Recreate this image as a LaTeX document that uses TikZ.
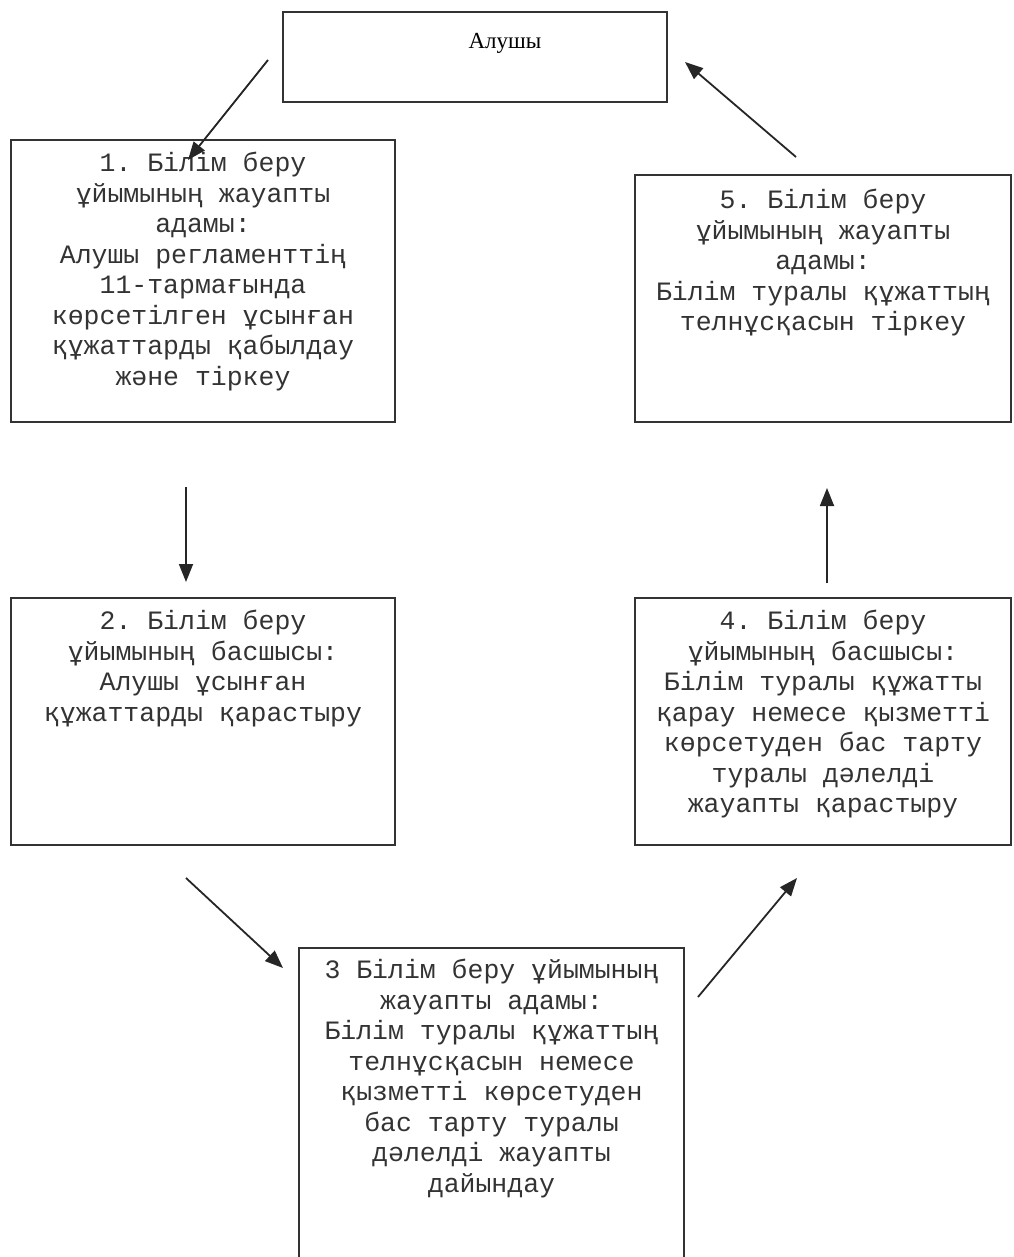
\documentclass[tikz,border=0pt]{standalone}
\usepackage{fontspec}
\setmainfont{Liberation Serif}
\setmonofont{Liberation Mono}
\usetikzlibrary{arrows.meta}

\begin{document}
\begin{tikzpicture}[x=1pt,y=-1pt,
  box/.style={draw=black!80,line width=2pt,inner sep=0pt},
  txt/.style={anchor=north,align=center,text=black!80,
    font=\ttfamily\fontsize{26.5}{30.5}\selectfont},
  arr/.style={draw=black!85,line width=1.8pt,-{Triangle[length=18pt,width=14pt]}}]
\path[use as bounding box] (0,0) rectangle (1013,1257);
% boxes
\node[box,minimum width=384pt,minimum height=90pt]  (rcv) at (475,57) {};
\node[box,minimum width=384pt,minimum height=282pt] (s1)  at (203,281) {};
\node[box,minimum width=384pt,minimum height=247pt] (s2)  at (203,721.5) {};
\node[box,minimum width=385pt,minimum height=322pt] (s3)  at (491.5,1109) {};
\node[box,minimum width=376pt,minimum height=247pt] (s4)  at (823,721.5) {};
\node[box,minimum width=376pt,minimum height=247pt] (s5)  at (823,298.5) {};
% texts
\node[font=\fontsize{23}{28}\selectfont] (rcvtxt) at (505,43) {Алушы};
\node[txt] (t1) at ([yshift=-10pt]s1.north) {1. Білім беру\\ұйымының жауапты\\адамы:\\Алушы регламенттің\\11-тармағында\\көрсетілген ұсынған\\құжаттарды қабылдау\\және тіркеу};
\node[txt] (t2) at ([yshift=-10pt]s2.north) {2. Білім беру\\ұйымының басшысы:\\Алушы ұсынған\\құжаттарды қарастыру};
\node[txt] (t3) at ([yshift=-9pt]s3.north) {3 Білім беру ұйымының\\жауапты адамы:\\Білім туралы құжаттың\\телнұсқасын немесе\\қызметті көрсетуден\\бас тарту туралы\\дәлелді жауапты\\дайындау};
\node[txt] (t4) at ([yshift=-10pt]s4.north) {4. Білім беру\\ұйымының басшысы:\\Білім туралы құжатты\\қарау немесе қызметті\\көрсетуден бас тарту\\туралы дәлелді\\жауапты қарастыру};
\node[txt] (t5) at ([yshift=-12pt]s5.north) {5. Білім беру\\ұйымының жауапты\\адамы:\\Білім туралы құжаттың\\телнұсқасын тіркеу};
% arrow ends
\coordinate (a0) at (268,60);  \coordinate (b0) at (188,160);
\coordinate (a1) at (186,487); \coordinate (b1) at (186,582);
\coordinate (a2) at (186,878); \coordinate (b2) at (283,968);
\coordinate (a3) at (698,997); \coordinate (b3) at (797,878);
\coordinate (a4) at (827,583); \coordinate (b4) at (827,488);
\coordinate (a5) at (796,157); \coordinate (b5) at (685,62);
\foreach \i in {0,...,5}
  \draw[arr] (a\i) -- (b\i);
\end{tikzpicture}
\end{document}
